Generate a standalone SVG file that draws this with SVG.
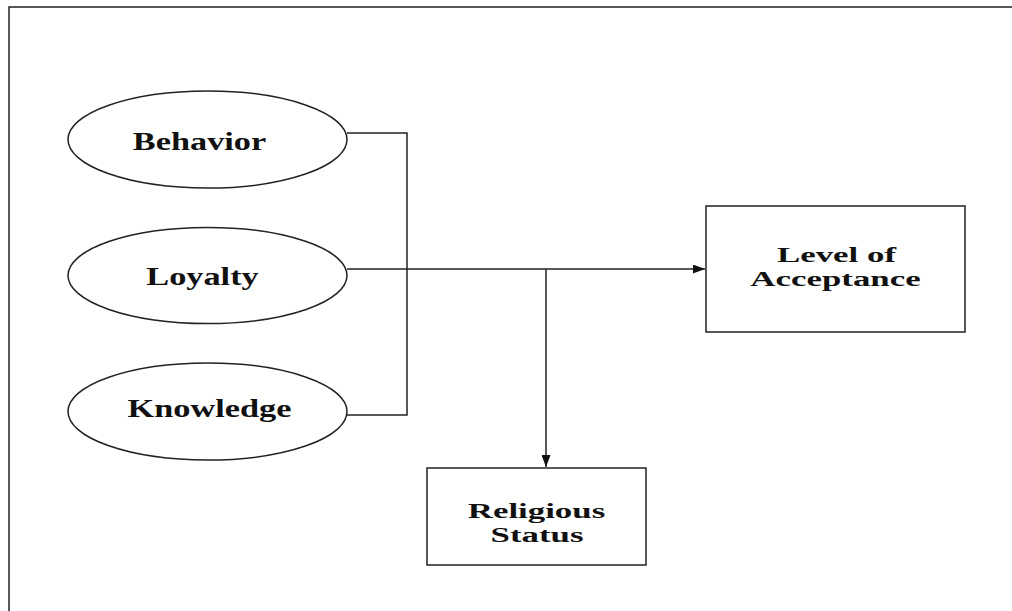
<svg xmlns="http://www.w3.org/2000/svg" width="1012" height="611" viewBox="0 0 1012 611">
<style>
.shape{fill:#fff;stroke:#222;stroke-width:1.5}
.conn{fill:none;stroke:#222;stroke-width:1.5}
.lbl{font-family:"Liberation Serif","Times New Roman",serif;font-weight:bold;fill:#111;text-anchor:middle}
.box{font-size:21px}
.ell{font-size:26px}
</style>
<defs>
<marker id="arr" viewBox="0 0 12 9" refX="12" refY="4.5" markerWidth="12" markerHeight="9" markerUnits="userSpaceOnUse" orient="auto">
<path d="M0,0 L12,4.5 L0,9 Z" fill="#111"/>
</marker>
</defs>
<rect width="1012" height="611" fill="#fff"/>
<path d="M9,611 V7 H1012" fill="none" stroke="#222" stroke-width="1.5"/>
<g id="connectors">
<path class="conn" d="M347,133 H407 V415 H347"/>
<path class="conn" d="M347,269 H705" marker-end="url(#arr)"/>
<path class="conn" d="M546,269 V467" marker-end="url(#arr)"/>
</g>
<g id="behavior">
<ellipse class="shape" cx="207.5" cy="139.5" rx="139.5" ry="48.5"/>
<text class="lbl ell" transform="translate(199.5,150) scale(1.32,1)">Behavior</text>
</g>
<g id="loyalty">
<ellipse class="shape" cx="207.5" cy="275.5" rx="139.5" ry="48"/>
<text class="lbl ell" transform="translate(202.5,285) scale(1.32,1)">Loyalty</text>
</g>
<g id="knowledge">
<ellipse class="shape" cx="207.5" cy="411.5" rx="139.5" ry="48.5"/>
<text class="lbl ell" transform="translate(209.5,417) scale(1.32,1)">Knowledge</text>
</g>
<g id="level">
<rect class="shape" x="706" y="206" width="259" height="126"/>
<text class="lbl box" transform="translate(836.5,262) scale(1.66,1)">Level of</text>
<text class="lbl box" transform="translate(835.5,286) scale(1.66,1)">Acceptance</text>
</g>
<g id="religious">
<rect class="shape" x="427" y="468" width="219" height="97"/>
<text class="lbl box" transform="translate(536.5,518) scale(1.66,1)">Religious</text>
<text class="lbl box" transform="translate(537,542) scale(1.66,1)">Status</text>
</g>
</svg>
